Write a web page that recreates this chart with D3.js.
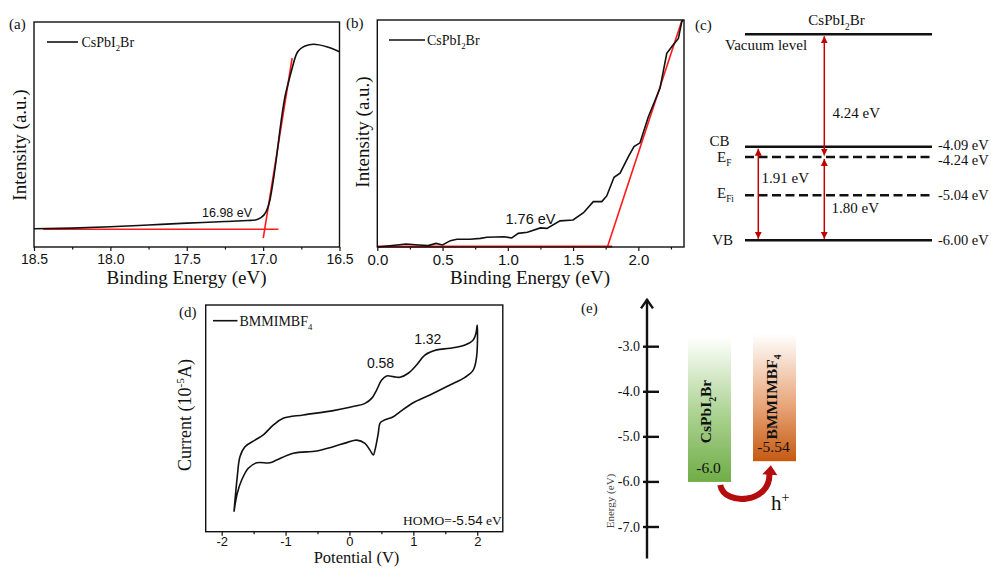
<!DOCTYPE html>
<html><head><meta charset="utf-8">
<script src="https://cdn.jsdelivr.net/npm/d3@7"></script>
<style>body{margin:0;background:#fff}svg{display:block}</style>
</head><body>
<svg id="fig" width="991" height="568"></svg>
<script>
// ---------------- DATA ----------------
// (a) secondary electron cutoff
const aEnergy = [18.5,18.25,18.0,17.75,17.5,17.25,17.1,17.05,17.02,16.98,16.955,16.933,16.91,16.89,16.857,16.835,16.813,16.78,16.726,16.67,16.584,16.5];
const aIntensity = [8.1,8.4,9.0,9.8,10.6,11.3,11.8,12.0,12.8,15.7,21,29.8,41,52,66.8,73,78.7,86,89.3,90.1,89,86.8];
const aBaseE = [18.44,16.9], aBaseI = [7.9,7.9];
const aTanE = [16.999,16.81], aTanI = [3.9,84];
const aTicks = [18.5,18.0,17.5,17.0,16.5], aMinor = [18.25,17.75,17.25,16.75];
// (b) valence band edge
const bEnergy = [0,0.15,0.22,0.32,0.39,0.45,0.50,0.56,0.61,0.71,0.79,0.84,0.97,1.03,1.08,1.15,1.25,1.30,1.40,1.50,1.58,1.655,1.72,1.758,1.814,1.86,1.924,1.967,2.013,2.077,2.166,2.218,2.256,2.307,2.333,2.345];
const bIntensity = [0,0.9,1.3,0.9,0.6,1.6,0.9,2.8,3.4,3.4,3.8,4.3,4.5,4.0,6.0,6.5,8.4,8.2,11.5,11.9,15.1,20.0,20.0,22.5,30.7,32.5,39.8,44.2,45.9,57.4,69.9,85.3,88.2,91.9,99.3,100];
const bBaseE = [0,1.80], bBaseI = [0.15,0.15];
const bTanE = [1.763,2.335], bTanI = [0,100];
const bTicks = [0,0.5,1.0,1.5,2.0], bMinor = [0.25,0.75,1.25,1.75,2.25];
// (c) energy levels
const cLevelNames = ["Vacuum level","CB","E_F","E_Fi","VB"];
const cLevelValues = [0,-4.09,-4.24,-5.04,-6.00];
const cLevelDashed = [false,false,true,true,false];
const cLevelLabels = ["","-4.09 eV","-4.24 eV","-5.04 eV","-6.00 eV"];
const cGapFrom = [0,-4.24,-4.09], cGapTo = [-4.24,-6.00,-6.00], cGapText = ["4.24 eV","1.80 eV","1.91 eV"];
// (d) cyclic voltammetry
const dPotential = [-1.807,-1.756,-1.714,-1.635,-1.479,-1.348,-1.19,-1.036,-0.723,-0.254,0.008,0.243,0.347,0.425,0.504,0.582,0.686,0.79,0.92,1.05,1.18,1.365,1.573,1.808,1.937,1.98,2.0,
  1.99,1.937,1.808,1.573,1.26,0.998,0.79,0.686,0.529,0.477,0.451,0.399,0.373,0.321,0.243,0.113,-0.043,-0.254,-0.514,-0.879,-1.14,-1.244,-1.452,-1.583,-1.687,-1.756,-1.807];
const dCurrent = [8.8,24.3,33.1,37.5,40.4,42.7,47.1,50.0,51.5,53.4,54.9,56.6,58.8,62.5,66.9,68.7,68.4,68.1,69.9,73.5,77.9,80.2,80.9,82.4,84.6,87.5,91.2,
  77.2,71.3,68.1,64.7,60.3,56.9,52.9,50.7,49.0,47.8,43.4,36.0,33.8,36.0,39.0,40.4,39.3,37.5,35.6,34.6,31.6,30.4,30.4,28.0,22.8,16.9,8.8];
const dTicks = [-2,-1,0,1,2], dMinor = [-1.5,-0.5,0.5,1.5];
const dPeakV = [0.58,1.32], dPeakI = [72,83], dPeakText = ["0.58","1.32"];
// (e) band alignment
const eMaterials = ["CsPbI2Br","BMMIMBF4"];
const eLevels = [-6.0,-5.54];
const eTop = [-2.78,-2.72];
const eLevelText = ["-6.0","-5.54"];
const eTicks = [-3.0,-4.0,-5.0,-6.0,-7.0];

// ---------------- HELPERS ----------------
const svg = d3.select("#fig");
const SERIF = "'Liberation Serif','Times New Roman',serif";
const SANS = "'Liberation Sans',Arial,sans-serif";
const INK = "#111";
function rich(t, parts, fs){
  let shift = 0;
  parts.forEach(p=>{
    const target = p.sub ? fs*0.3 : p.sup ? -fs*0.38 : 0;
    t.append("tspan").attr("dy", target-shift).attr("font-size", (p.sub||p.sup)? fs*0.62 : fs).text(p.t);
    shift = target;
  });
}
function txt(x,y,s,fs,font,anchor){
  return svg.append("text").attr("x",x).attr("y",y).attr("font-family",font||SERIF)
    .attr("font-size",fs).attr("fill",INK).attr("text-anchor",anchor||"start").text(s);
}
function vlabel(cx,cy,fs){
  return svg.append("text").attr("transform",`translate(${cx},${cy}) rotate(-90)`)
    .attr("text-anchor","middle").attr("dy","0.35em").attr("font-family",SERIF).attr("font-size",fs).attr("fill",INK);
}
function xAxis(g, x, major, minor, fmt, fs, pad){
  const a = g.append("g").call(d3.axisBottom(x).tickValues(major).tickFormat(fmt).tickSize(4).tickPadding(pad));
  a.select(".domain").remove();
  a.selectAll("line").attr("stroke",INK).attr("stroke-width",1.2);
  a.selectAll("text").attr("font-family",SANS).attr("font-size",fs).attr("fill",INK);
  const m = g.append("g").call(d3.axisBottom(x).tickValues(minor).tickFormat("").tickSize(2.5));
  m.select(".domain").remove();
  m.selectAll("line").attr("stroke",INK).attr("stroke-width",1.2);
}
function frame(x0,y0,x1,y1){
  svg.append("rect").attr("x",x0).attr("y",y0).attr("width",x1-x0).attr("height",y1-y0)
    .attr("fill","none").attr("stroke",INK).attr("stroke-width",1.4);
}
const sub2 = [{t:"CsPbI"},{t:"2",sub:true},{t:"Br"}];

// ---------------- PANEL A ----------------
{
  const x = d3.scaleLinear().domain([18.5,16.5]).range([34,339.5]);
  const y = d3.scaleLinear().domain([0,100]).range([247,22]);
  const g = svg.append("g").attr("transform","translate(0,247)");
  xAxis(g, x, aTicks, aMinor, d=>d.toFixed(1), 14, 3);
  const line = d3.line().x(d=>x(d[0])).y(d=>y(d[1]));
  svg.append("path").attr("d", line(d3.zip(aBaseE,aBaseI))).attr("stroke","#ff1a1a").attr("stroke-width",1.6).attr("fill","none");
  svg.append("path").attr("d", line(d3.zip(aTanE,aTanI))).attr("stroke","#ff1a1a").attr("stroke-width",1.6).attr("fill","none");
  svg.append("path").attr("d", line.curve(d3.curveMonotoneX)(d3.zip(aEnergy,aIntensity))).attr("stroke",INK).attr("stroke-width",1.6).attr("fill","none");
  frame(34,22,339.5,247);
  txt(202,216.5,"16.98 eV",12.5,SANS);
  svg.append("line").attr("x1",47).attr("x2",78).attr("y1",42).attr("y2",42).attr("stroke",INK).attr("stroke-width",1.6);
  rich(txt(81.5,46.5,"",14), sub2, 14);
  txt(9,29,"(a)",15);
  vlabel(19,145,19).text("Intensity (a.u.)");
  txt(186.5,284,"Binding Energy (eV)",19,SERIF,"middle");
}

// ---------------- PANEL B ----------------
{
  const x = d3.scaleLinear().domain([0,2.35]).range([377.3,684]);
  const y = d3.scaleLinear().domain([0,100]).range([247,20]);
  const g = svg.append("g").attr("transform","translate(0,247)");
  xAxis(g, x, bTicks, bMinor, d=>d.toFixed(1), 15, 3);
  const line = d3.line().x(d=>x(d[0])).y(d=>y(d[1]));
  svg.append("path").attr("d", line(d3.zip(bBaseE,bBaseI))).attr("stroke","#ff1a1a").attr("stroke-width",2.4).attr("fill","none");
  svg.append("path").attr("d", line(d3.zip(bTanE,bTanI))).attr("stroke","#ff1a1a").attr("stroke-width",1.6).attr("fill","none");
  svg.append("path").attr("d", line(d3.zip(bEnergy,bIntensity))).attr("stroke",INK).attr("stroke-width",1.6).attr("fill","none");
  frame(377.3,20,684,247);
  txt(505.5,224,"1.76 eV",14.5,SANS);
  svg.append("line").attr("x1",389).attr("x2",425).attr("y1",40).attr("y2",40).attr("stroke",INK).attr("stroke-width",1.6);
  rich(txt(427,45,"",14), sub2, 14);
  txt(346,28,"(b)",15);
  vlabel(362,132,19).text("Intensity (a.u.)");
  txt(530,284,"Binding Energy (eV)",19,SERIF,"middle");
}

// ---------------- PANEL C ----------------
{
  const y = d3.scaleLinear().domain(cLevelValues).range([34.3,146.7,157,195.3,240.3]);
  const x0 = 745, x1 = 932;
  const DR = "#c00000";
  svg.append("defs").append("marker").attr("id","ah").attr("viewBox","0 0 10 10").attr("refX",10).attr("refY",5)
    .attr("markerWidth",7).attr("markerHeight",8).attr("markerUnits","userSpaceOnUse").attr("orient","auto-start-reverse")
    .append("path").attr("d","M0,0L10,5L0,10z").attr("fill",DR);
  svg.selectAll("line.lvl").data(cLevelValues).join("line").attr("class","lvl")
    .attr("x1",x0).attr("x2",x1).attr("y1",d=>y(d)).attr("y2",d=>y(d))
    .attr("stroke",INK).attr("stroke-width",2.6)
    .attr("stroke-dasharray",(d,i)=>cLevelDashed[i]?"9,4.5":null);
  const rOff = [0,3.5,7.5,4.5,4.5];
  cLevelLabels.forEach((s,i)=>{ if(s) txt(938,y(cLevelValues[i])+rOff[i],s,14.5); });
  // left labels
  txt(836.5,25,"",15,SERIF,"middle").call(t=>rich(t,sub2,15));
  txt(725,50,"Vacuum level",15);
  txt(729.5,145.5,"CB",15,SERIF,"end");
  rich(txt(717,161.5,"",15), [{t:"E"},{t:"F",sub:true}], 15);
  rich(txt(717,197.5,"",15), [{t:"E"},{t:"Fi",sub:true}], 15);
  txt(733,245,"VB",15,SERIF,"end");
  const ax = [824.3,824.3,758.3];
  cGapFrom.forEach((f,i)=>{
    svg.append("line").attr("x1",ax[i]).attr("x2",ax[i]).attr("y1",y(f)+2).attr("y2",y(cGapTo[i])-1.5)
      .attr("stroke",DR).attr("stroke-width",1.5).attr("marker-start","url(#ah)").attr("marker-end","url(#ah)");
  });
  txt(832.5,118,cGapText[0],15);
  txt(831.5,213,cGapText[1],15);
  txt(761.5,183,cGapText[2],15);
  txt(695,30,"(c)",15);
}

// ---------------- PANEL D ----------------
{
  const x = d3.scaleLinear().domain([-2.25,2.4]).range([205.7,502.8]);
  const y = d3.scaleLinear().domain([0,100]).range([531.7,305]);
  const g = svg.append("g").attr("transform","translate(0,531.7)");
  xAxis(g, x, dTicks, dMinor, d=>String(d), 13, 1);
  const line = d3.line().x(d=>x(d[0])).y(d=>y(d[1])).curve(d3.curveCatmullRom.alpha(0.5));
  svg.append("path").attr("d", line(d3.zip(dPotential,dCurrent))).attr("stroke",INK).attr("stroke-width",1.6).attr("fill","none");
  frame(205.7,305,502.8,531.7);
  dPeakText.forEach((s,i)=>txt(x(dPeakV[i])-6,y(dPeakI[i]),s,14,SANS,"middle"));
  svg.append("line").attr("x1",213).attr("x2",237.5).attr("y1",320.7).attr("y2",320.7).attr("stroke",INK).attr("stroke-width",1.6);
  rich(txt(239.5,325.5,"",14), [{t:"BMMIMBF"},{t:"4",sub:true}], 14);
  const h = txt(403,525,"",13.5);
  h.append("tspan").text("HOMO=");
  h.append("tspan").attr("font-family",SANS).text("-5.54");
  h.append("tspan").text(" eV");
  txt(179,317,"(d)",15);
  rich(vlabel(191,415,18), [{t:"Current (10"},{t:"-5",sup:true},{t:"A)"}], 18);
  txt(356.5,563,"Potential (V)",16.5,SERIF,"middle");
}

// ---------------- PANEL E ----------------
{
  const y = d3.scaleLinear().domain([-3,-7]).range([346.7,527]);
  const xb = d3.scaleBand().domain(eMaterials).range([688,796]).paddingInner(0.3385);
  const AX = 647;
  const defs = svg.select("defs");
  const grads = [["gG","#70ad47","#a9d18e"],["gO","#c55a11","#e9a77c"]];
  grads.forEach(([id,c1,c2])=>{
    const lg = defs.append("linearGradient").attr("id",id).attr("x1",0).attr("x2",0).attr("y1",0).attr("y2",1);
    lg.append("stop").attr("offset","0%").attr("stop-color","#ffffff");
    lg.append("stop").attr("offset","55%").attr("stop-color",c2);
    lg.append("stop").attr("offset","100%").attr("stop-color",c1);
  });
  svg.selectAll("rect.bar").data(eMaterials).join("rect").attr("class","bar")
    .attr("x",d=>xb(d)).attr("width",xb.bandwidth())
    .attr("y",(d,i)=>y(eTop[i])).attr("height",(d,i)=>y(eLevels[i])-y(eTop[i]))
    .attr("fill",(d,i)=>`url(#${grads[i][0]})`);
  // axis
  svg.append("line").attr("x1",AX).attr("x2",AX).attr("y1",y(-1.95)).attr("y2",y(-7.7)).attr("stroke",INK).attr("stroke-width",2.4);
  svg.append("path").attr("d",`M${AX-6},${y(-1.95)+9}L${AX},${y(-1.95)+0.5}L${AX+6},${y(-1.95)+9}`)
    .attr("fill","none").attr("stroke",INK).attr("stroke-width",2.4);
  svg.selectAll("line.et").data(eTicks).join("line").attr("class","et")
    .attr("x1",AX-4).attr("x2",AX+12).attr("y1",d=>y(d)).attr("y2",d=>y(d)).attr("stroke",INK).attr("stroke-width",2.4);
  svg.selectAll("text.el").data(eTicks).join("text").attr("class","el")
    .attr("x",640).attr("y",d=>y(d)+4.5).attr("text-anchor","end").attr("font-family",SERIF).attr("font-size",14).attr("fill",INK)
    .text(d=>d.toFixed(1));
  svg.append("text").attr("transform","translate(610,501) rotate(-90)").attr("text-anchor","middle").attr("dy","0.35em")
    .attr("font-family",SERIF).attr("font-size",11).attr("fill","#444").text("Energy (eV)");
  // bar texts
  eMaterials.forEach((m,i)=>{
    const cx = xb(m)+xb.bandwidth()/2;
    txt(cx-1,y(eLevels[i])-9,eLevelText[i],15.5,SERIF,"middle");
  });
  const t1 = svg.append("text").attr("transform",`translate(${xb(eMaterials[0])+xb.bandwidth()/2+2},411.5) rotate(-90)`)
    .attr("text-anchor","middle").attr("dy","0.35em").attr("font-family",SERIF).attr("font-weight","bold").attr("fill",INK);
  rich(t1, [{t:"CsPbI"},{t:"2",sub:true},{t:"Br"}], 15.5);
  const t2 = svg.append("text").attr("transform",`translate(${xb(eMaterials[1])+xb.bandwidth()/2+2},397) rotate(-90)`)
    .attr("text-anchor","middle").attr("dy","0.35em").attr("font-family",SERIF).attr("font-weight","bold").attr("fill",INK);
  rich(t2, [{t:"BMMIMBF"},{t:"4",sub:true}], 15.5);
  // hole transfer arrow
  const sx = xb(eMaterials[0])+xb.bandwidth()*0.75, sy = y(eLevels[0])+3;
  const ex = xb(eMaterials[1])+xb.bandwidth()*0.38, ey = y(eLevels[1])+12;
  const p = d3.path();
  p.moveTo(sx,sy); p.bezierCurveTo(sx+4,sy+22,ex+2,ey+30,ex,ey);
  svg.append("path").attr("d",p.toString()).attr("fill","none").attr("stroke","#b30d0d").attr("stroke-width",6).attr("stroke-linecap","butt");
  svg.append("path").attr("d",`M${ex-7},${ey+1}L${ex+1.5},${ey-8}L${ex+8},${ey+2}Z`).attr("fill","#b30d0d");
  const hp = txt(771,510,"",21);
  hp.append("tspan").text("h");
  hp.append("tspan").attr("dy",-8).attr("font-size",14).text("+");
  txt(581,313,"(e)",15);
}
</script>
</body></html>
